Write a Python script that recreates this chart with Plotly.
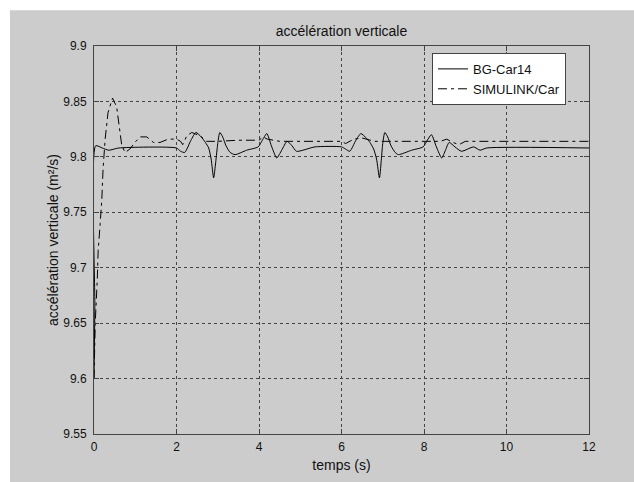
import plotly.graph_objects as go

# BG-Car14 (solid)
t_bg = [0, 0.02, 0.04, 0.2, 0.36, 0.6, 2.0, 2.1, 2.2, 2.35, 2.47, 2.6, 2.7, 2.78, 2.84, 2.9, 2.95, 3.0, 3.05,
        3.12, 3.2, 3.3, 3.42, 3.7, 3.98, 4.08, 4.19, 4.3, 4.43, 4.55, 4.68, 4.8, 4.91, 5.36, 6.0, 6.1, 6.2,
        6.35, 6.47, 6.6, 6.69, 6.78, 6.85, 6.92, 6.96, 7.0, 7.05, 7.12, 7.2, 7.3, 7.38, 7.7, 7.98, 8.08,
        8.18, 8.3, 8.43, 8.52, 8.61, 8.75, 8.91, 9.2, 9.36, 9.52, 12]
v_bg = [9.600, 9.665, 9.810, 9.808, 9.806, 9.808, 9.808, 9.805, 9.804, 9.815, 9.822, 9.818, 9.813, 9.808,
        9.798, 9.781, 9.795, 9.812, 9.822, 9.818, 9.810, 9.804, 9.802, 9.806, 9.809, 9.815, 9.821, 9.810,
        9.799, 9.806, 9.814, 9.810, 9.805, 9.809, 9.809, 9.807, 9.805, 9.815, 9.821, 9.817, 9.813, 9.807,
        9.798, 9.781, 9.795, 9.812, 9.822, 9.818, 9.810, 9.804, 9.802, 9.806, 9.809, 9.815, 9.820, 9.809,
        9.799, 9.806, 9.813, 9.809, 9.805, 9.809, 9.806, 9.808, 9.808]

# SIMULINK/Car (dash-dot)
t_sim = [0, 0.03, 0.08, 0.1, 0.15, 0.19, 0.22, 0.27, 0.34, 0.45, 0.55, 0.63, 0.67, 0.75, 0.87, 0.99, 1.12,
         1.28, 1.44, 1.6, 1.8, 2.0, 2.1, 2.15, 2.25, 2.37, 2.57, 2.73, 3.0, 3.5, 4.0, 4.1, 4.2, 4.5, 6.0,
         6.1, 6.3, 6.5, 6.8, 8.4, 8.55, 8.7, 8.85, 9.0, 12]
v_sim = [9.600, 9.650, 9.690, 9.715, 9.740, 9.762, 9.789, 9.816, 9.840, 9.853, 9.845, 9.825, 9.811, 9.804,
         9.807, 9.813, 9.818, 9.818, 9.813, 9.813, 9.816, 9.816, 9.814, 9.811, 9.819, 9.822, 9.819, 9.814,
         9.814, 9.815, 9.815, 9.818, 9.816, 9.814, 9.814, 9.812, 9.816, 9.817, 9.814, 9.814, 9.816, 9.813,
         9.811, 9.814, 9.814]

x_ticks = [0, 2, 4, 6, 8, 10, 12]
y_ticks = [9.55, 9.6, 9.65, 9.7, 9.75, 9.8, 9.85, 9.9]
y_ticklabels = ["9.55", "9.6", "9.65", "9.7", "9.75", "9.8", "9.85", "9.9"]

FONT = "Liberation Sans, Arial, sans-serif"
GRAY = "#cccccc"
AXC = "#444444"

fig = go.Figure()
fig.add_trace(go.Scatter(x=t_bg, y=v_bg, mode="lines", name="BG-Car14",
                         line=dict(color="black", width=1, shape="spline", smoothing=0.6)))
fig.add_trace(go.Scatter(x=t_sim, y=v_sim, mode="lines", name="SIMULINK/Car",
                         line=dict(color="black", width=1, dash="9px,4px,3px,4px")))

# gray figure background with white band at top/left
L, R, T, B = 94, 45, 46, 45
W, H = 634, 482
pw, ph = W - L - R, H - T - B
fig.add_shape(type="rect", xref="paper", yref="paper", layer="below",
              x0=(10 - L) / pw, x1=(W - L + 5) / pw,
              y0=-(B + 5) / ph, y1=(H - B - 10) / ph,
              fillcolor=GRAY, line=dict(width=0))

axis_common = dict(showline=True, linecolor=AXC, linewidth=1, mirror="ticks",
                   ticks="inside", ticklen=5, tickcolor=AXC,
                   showgrid=True, gridcolor=AXC, gridwidth=1, griddash="3px,3px",
                   zeroline=False, tickfont=dict(family=FONT, size=12, color="#111"))

fig.update_xaxes(range=[0, 12], tickvals=x_ticks, ticktext=[str(v) for v in x_ticks],
                 title=dict(text="temps (s)", font=dict(family=FONT, size=14, color="#111"), standoff=6),
                 ticklabelstandoff=2, **axis_common)
fig.update_yaxes(range=[9.55, 9.9], tickvals=y_ticks, ticktext=y_ticklabels,
                 title=dict(text="accélération verticale (m²/s)", font=dict(family=FONT, size=14, color="#111"), standoff=1),
                 ticklabelstandoff=4, **axis_common)

fig.update_layout(
    width=W, height=H,
    margin=dict(l=L, r=R, t=T, b=B),
    paper_bgcolor="white", plot_bgcolor="white",
    title=dict(text="accélération verticale", x=(L + pw / 2) / W, xanchor="center",
               y=1 - 31 / H, yanchor="middle", font=dict(family=FONT, size=14, color="#111")),
    legend=dict(x=(432 - L) / pw, y=(437 - 53) / ph, xanchor="left", yanchor="top",
                bgcolor="white", bordercolor=AXC, borderwidth=1,
                font=dict(family=FONT, size=13, color="#111"),
                tracegroupgap=0, itemwidth=30),
    showlegend=True,
)

fig.write_html("out.html")
